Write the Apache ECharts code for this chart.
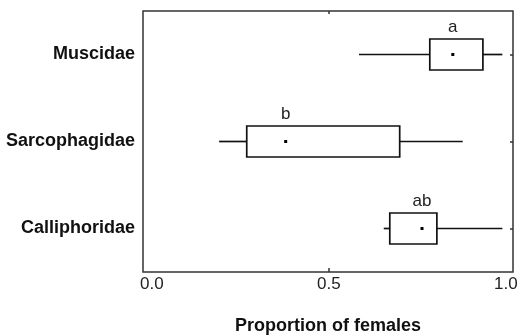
<!DOCTYPE html>
<html><head><meta charset="utf-8">
<script src="https://cdn.jsdelivr.net/npm/echarts@6/dist/echarts.min.js"></script>
<style>html,body{margin:0;padding:0;background:#fff}#c{width:519px;height:335px}</style>
</head><body><div id="c"></div>
<script>
const categories = ['Calliphoridae', 'Sarcophagidae', 'Muscidae'];
const whiskerLow = [0.655, 0.19, 0.585];
const q1 = [0.672, 0.268, 0.785];
const median = [0.763, 0.378, 0.85];
const q3 = [0.805, 0.70, 0.935];
const whiskerHigh = [0.99, 0.878, 0.99];
const letters = ['ab', 'b', 'a'];
const xTicks = [0, 0.5, 1];
const xTickMarks = [0.5];

const data = categories.map((c, i) => [i, whiskerLow[i], q1[i], median[i], q3[i], whiskerHigh[i], letters[i]]);
const catIndex = categories.map((c, i) => i);

const chart = echarts.init(document.getElementById('c'));
const FONT = 'Liberation Sans, Arial, sans-serif';
chart.setOption({
  animation: false,
  grid: { left: 143, top: 11, right: 6, bottom: 63, outerBoundsMode: 'none', containLabel: false, show: true, borderColor: '#333', borderWidth: 1.5, backgroundColor: '#fff', z: 0 },
  xAxis: [{
    type: 'value', min: -0.025, max: 1.02, position: 'bottom', z: 5,
    axisLine: { show: false, onZero: false }, splitLine: { show: false },
    axisTick: { show: true, inside: true, length: 4, customValues: xTickMarks, lineStyle: { color: '#333', width: 1.5 } },
    axisLabel: { customValues: xTicks, formatter: v => v.toFixed(1), fontFamily: FONT, fontSize: 17, color: '#222', margin: 4 },
    name: 'Proportion of females', nameLocation: 'middle', nameGap: 45,
    nameTextStyle: { fontFamily: FONT, fontSize: 18, fontWeight: 'bold', color: '#111' }
  }, {
    type: 'value', min: -0.025, max: 1.02, position: 'top', z: 5,
    axisLine: { show: false, onZero: false }, splitLine: { show: false },
    axisTick: { show: true, inside: true, length: 3, customValues: xTickMarks, lineStyle: { color: '#333', width: 1.5 } },
    axisLabel: { show: false }
  }],
  yAxis: [{
    type: 'category', data: categories, position: 'left',
    axisLine: { show: false, onZero: false }, axisTick: { show: false }, splitLine: { show: false },
    axisLabel: { fontFamily: FONT, fontSize: 18, fontWeight: 'bold', color: '#111', margin: 8 }
  }, {
    type: 'value', min: -0.5, max: 2.5, position: 'right', z: 5,
    axisLine: { show: false, onZero: false }, splitLine: { show: false },
    axisTick: { show: true, inside: true, length: 3, customValues: catIndex, lineStyle: { color: '#333', width: 1.5 } },
    axisLabel: { show: false }
  }],
  series: [{
    type: 'custom',
    xAxisIndex: 0, yAxisIndex: 0,
    data: data,
    encode: { x: [1, 2, 3, 4, 5], y: 0 },
    renderItem: function (params, api) {
      const cat = api.value(0);
      const pLo = api.coord([api.value(1), cat]);
      const pQ1 = api.coord([api.value(2), cat]);
      const pMed = api.coord([api.value(3), cat]);
      const pQ3 = api.coord([api.value(4), cat]);
      const pHi = api.coord([api.value(5), cat]);
      const h = 31, y = pMed[1];
      const ls = { stroke: '#111', lineWidth: 1.7, fill: null };
      return {
        type: 'group',
        children: [
          { type: 'line', shape: { x1: pLo[0], y1: y, x2: pQ1[0], y2: y }, style: ls },
          { type: 'line', shape: { x1: pQ3[0], y1: y, x2: pHi[0], y2: y }, style: ls },
          { type: 'rect', shape: { x: pQ1[0], y: y - h / 2, width: pQ3[0] - pQ1[0], height: h }, style: { stroke: '#111', lineWidth: 1.7, fill: '#fff' } },
          { type: 'rect', shape: { x: pMed[0] - 1.5, y: y - 1.5, width: 3, height: 3 }, style: { fill: '#000' } },
          { type: 'text', x: pMed[0], y: y - h / 2 - 3, style: { text: api.value(6), fontFamily: FONT, fontSize: 17, fill: '#222', align: 'center', verticalAlign: 'bottom' } }
        ]
      };
    }
  }]
});
</script></body></html>
